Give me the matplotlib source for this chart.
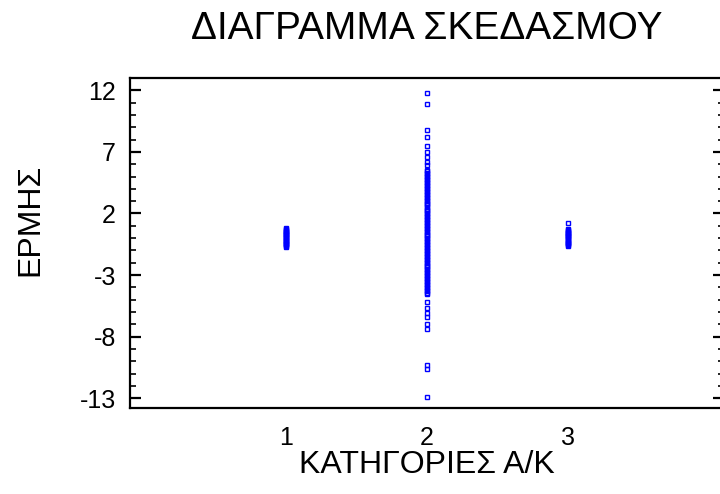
import numpy as np
import matplotlib
matplotlib.use("Agg")
import matplotlib.pyplot as plt
from matplotlib.ticker import MultipleLocator, FixedLocator

plt.rcParams['font.family'] = ['Liberation Sans', 'DejaVu Sans']
plt.rcParams['axes.unicode_minus'] = False

# Residuals (ΕΡΜΗΣ) observed in each category
categories = [1, 2, 3]
resid_cat1 = [0.78, 0.71, 0.65, 0.58, 0.52, 0.46, 0.41, 0.35, 0.30, 0.24,
              0.18, 0.11, 0.05, -0.02, -0.08, -0.14, -0.20, -0.27, -0.33,
              -0.39, -0.45, -0.51, -0.58, -0.64, -0.72]
resid_cat2 = [11.8, 10.9, 8.8, 8.2, 7.5, 7.0, 6.6, 6.2, 5.9,
              5.55, 5.42, 5.31, 5.18, 5.05, 4.93, 4.81, 4.70, 4.57, 4.44,
              4.33, 4.21, 4.08, 3.96, 3.85, 3.72, 3.60, 3.49, 3.36, 3.24,
              3.12, 3.01, 2.88, 2.76, 2.65, 2.52, 2.40, 2.29, 2.16, 2.04,
              1.93, 1.80, 1.68, 1.57, 1.44, 1.32, 1.21, 1.08, 0.96, 0.85,
              0.72, 0.60, 0.49, 0.36, 0.24, 0.13, 0.01, -0.11, -0.22, -0.35,
              -0.47, -0.58, -0.71, -0.83, -0.94, -1.07, -1.19, -1.30, -1.43,
              -1.55, -1.66, -1.79, -1.91, -2.02, -2.15, -2.27, -2.38, -2.51,
              -2.63, -2.74, -2.87, -2.99, -3.10, -3.23, -3.35, -3.46, -3.59,
              -3.71, -3.82, -3.95, -4.07, -4.18, -4.31, -4.43, -4.58,
              -5.2, -5.7, -6.1, -6.4, -7.0, -7.4, -10.3, -10.6, -12.9]
resid_cat3 = [1.2, 0.72, 0.66, 0.60, 0.53, 0.45, 0.39, 0.33, 0.26, 0.20,
              0.13, 0.06, -0.02, -0.10, -0.16, -0.22, -0.30, -0.37, -0.43,
              -0.50, -0.56, -0.62]
y_ticks = [-13, -8, -3, 2, 7, 12]

fig = plt.figure(figsize=(7.2, 4.94), dpi=100)
ax = fig.add_axes([130 / 720, (494 - 408) / 494, 594 / 720, 330 / 494])

for cat, vals in zip(categories, [resid_cat1, resid_cat2, resid_cat3]):
    ax.plot(np.full(len(vals), cat), vals, linestyle='none', marker='s',
            markersize=3.3, markerfacecolor='none', markeredgecolor='#0000ff',
            markeredgewidth=1.0)

ax.set_xlim(-0.1, 4.1)
ax.set_ylim(-13.8, 13.0)
ax.xaxis.set_major_locator(FixedLocator(categories))
ax.yaxis.set_major_locator(FixedLocator(y_ticks))
ax.yaxis.set_minor_locator(MultipleLocator(1))

for side in ax.spines.values():
    side.set_linewidth(1.6)

ax.tick_params(axis='x', which='both', length=0, pad=13, labelsize=18)
ax.tick_params(axis='y', which='major', direction='in', length=8, width=1.6,
               left=True, right=True, pad=10, labelsize=18)
ax.tick_params(axis='y', which='minor', direction='in', length=4, width=1.2,
               left=True, right=True)

ax.set_title('ΔΙΑΓΡΑΜΜΑ ΣΚΕΔΑΣΜΟΥ', fontsize=28, pad=28)
ax.set_xlabel('ΚΑΤΗΓΟΡΙΕΣ Α/Κ', fontsize=23, labelpad=0)
ax.set_ylabel('ΕΡΜΗΣ', fontsize=23)
ax.yaxis.set_label_coords(-0.143, 0.57)

fig.savefig('out.png', dpi=100)
